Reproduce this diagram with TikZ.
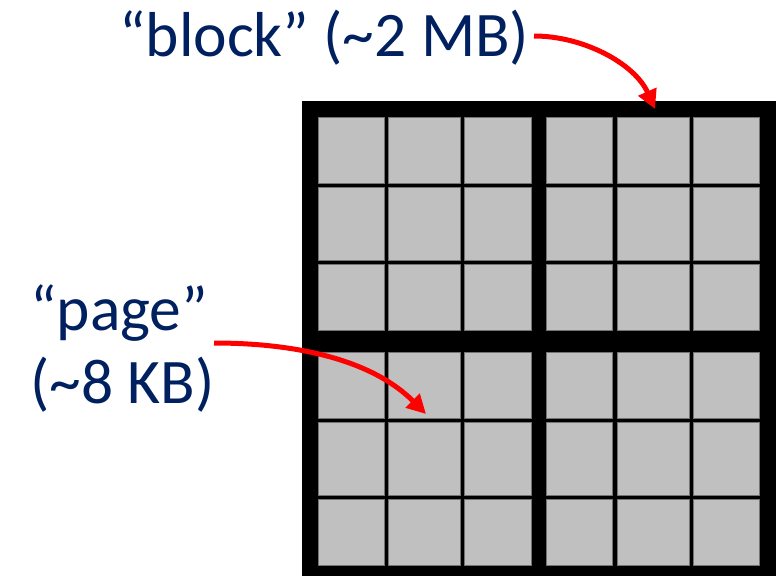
\documentclass[tikz,border=0pt]{standalone}
\usepackage{fontspec}
\setmainfont{Carlito}
\usetikzlibrary{arrows.meta}
\definecolor{navy}{RGB}{0,32,96}
\definecolor{cellgray}{RGB}{192,192,192}
\definecolor{celledge}{RGB}{115,115,115}
\definecolor{arrred}{RGB}{255,0,0}
\begin{document}
\begin{tikzpicture}[x=1pt,y=-1pt,
  lbl/.style={text=navy,inner sep=0pt,font=\fontsize{63.5}{72}\selectfont},
  cell/.style={fill=cellgray,draw=celledge,line width=0.7pt},
  pointer/.style={draw=arrred,line width=5pt,-{Triangle[length=19pt,width=19pt]}}]
\useasboundingbox (0,0) rectangle (779,576);
% frame
\fill[black] (302,101) rectangle (776,576);
% cells
\foreach \bx in {318,546.7}
 \foreach \by in {117.3,352.3}
  \foreach \cs/\ce in {0/66,70.3/142.7,146.7/213}
   \foreach \rs/\re in {0/66,70.3/142.7,146.7/213}
    \filldraw[cell] (\bx+\cs,\by+\rs) rectangle (\bx+\ce,\by+\re);
% labels
\node[lbl,anchor=base west] (blk) at (119,56) {“block” (\textasciitilde 2 MB)};
\node[lbl,anchor=base west] (pg1) at (30,330) {“page”};
\node[lbl,anchor=base west] (pg2) at (30,403) {(\textasciitilde 8 KB)};
% arrow ends
\coordinate (blkstart) at (534,36);
\coordinate (blktip) at (655,109);
\coordinate (pgstart) at (214,343);
\coordinate (pgtip) at (426,414);
\draw[pointer] (blkstart) to[out=0,in=114,looseness=0.9] (blktip);
\draw[pointer] (pgstart) to[out=0,in=135,looseness=0.9] (pgtip);
\end{tikzpicture}
\end{document}
